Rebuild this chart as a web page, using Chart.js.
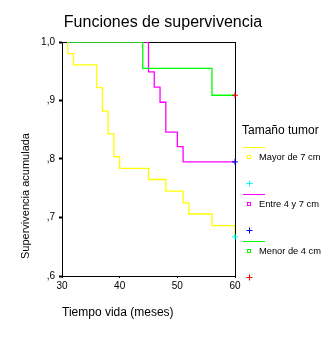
<!DOCTYPE html>
<html>
<head>
<meta charset="utf-8">
<script src="https://cdn.jsdelivr.net/npm/chart.js@4.4.0/dist/chart.umd.js"></script>
<style>
  html, body { margin: 0; padding: 0; background: #fff; }
</style>
</head>
<body>
<canvas id="kmChart" width="331" height="338"></canvas>
<script>
// tiempos (meses) y supervivencia acumulada por grupo
const mayorTimes = [31, 31, 32, 36, 37, 38, 39, 40, 45, 48, 51, 52, 56, 60];
const mayorSurv  = [1.0, .980, .961, .922, .882, .843, .804, .784, .765, .745, .725, .706, .686, .667];
const entreTimes = [31, 45, 46, 47, 48, 50, 51, 60];
const entreSurv  = [1.0, .949, .923, .897, .846, .821, .795, .795];
const menorTimes = [31, 44, 56, 60];
const menorSurv  = [1.0, .955, .909, .909];

const censorTime = 60;
const groupNames = ["Mayor de 7 cm", "Entre 4 y 7 cm", "Menor de 4 cm"];
const xTicks = [30, 40, 50, 60];
const yTicks = [0.6, 0.7, 0.8, 0.9, 1.0];
const yTickLabels = [",6", ",7", ",8", ",9", "1,0"];

const lineColors = ["#ffff00", "#ff00ff", "#00ff00"];
const censorColors = ["#00ffff", "#0000ff", "#ff0000"];
const FONT = "'Liberation Sans', Arial, sans-serif";

const toPoints = (xs, ys) => xs.map((x, i) => ({x: x, y: ys[i]}));
const series = [toPoints(mayorTimes, mayorSurv), toPoints(entreTimes, entreSurv), toPoints(menorTimes, menorSurv)];

const datasets = [];
series.forEach((pts, i) => {
    datasets.push({
        type: "line",
        label: groupNames[i],
        data: pts,
        borderColor: lineColors[i],
        borderWidth: 1.3,
        stepped: true,
        pointRadius: 0,
        fill: false,
        order: 3 - i
    });
    datasets.push({
        type: "scatter",
        label: groupNames[i] + " censurado",
        data: [{x: censorTime, y: pts[pts.length - 1].y}],
        pointStyle: "cross",
        pointRadius: 3,
        borderColor: censorColors[i],
        borderWidth: 1,
        clip: false,
        order: 0
    });
});

const decor = {
    id: "decor",
    beforeDatasetsDraw(chart) {
        const {ctx, chartArea: a} = chart;
        ctx.save();
        ctx.strokeStyle = "#000";
        ctx.lineWidth = 1;
        ctx.strokeRect(a.left + 0.5, a.top + 0.5, a.right - a.left, a.bottom - a.top);
        ctx.restore();
    },
    afterDraw(chart) {
        const ctx = chart.ctx;
        ctx.save();
        ctx.fillStyle = "#000";

        ctx.font = "16px " + FONT;
        ctx.textAlign = "center";
        ctx.textBaseline = "alphabetic";
        ctx.fillText("Funciones de supervivencia", 163, 27);

        ctx.font = "12px " + FONT;
        ctx.textAlign = "left";
        ctx.textBaseline = "middle";
        ctx.fillText("Tiempo vida (meses)", 62, 313);

        ctx.save();
        ctx.font = "11px " + FONT;
        ctx.translate(26, 196);
        ctx.rotate(-Math.PI / 2);
        ctx.textAlign = "center";
        ctx.fillText("Supervivencia acumulada", 0, 0);
        ctx.restore();

        // leyenda
        ctx.fillText("Tamaño tumor", 242, 131);
        ctx.font = "9.3px " + FONT;
        groupNames.forEach((name, i) => {
            const y0 = 147 + 47 * i;
            ctx.strokeStyle = lineColors[i];
            ctx.lineWidth = 1;
            ctx.beginPath();
            ctx.moveTo(243, y0 + 0.5);
            ctx.lineTo(265, y0 + 0.5);
            ctx.stroke();
            ctx.strokeRect(247.5, y0 + 8.5, 3, 3);
            ctx.fillStyle = "#000";
            ctx.fillText(name, 259, y0 + 10);
            ctx.strokeStyle = censorColors[i];
            ctx.beginPath();
            ctx.moveTo(246.5, y0 + 36.5);
            ctx.lineTo(252.5, y0 + 36.5);
            ctx.moveTo(249.5, y0 + 33.5);
            ctx.lineTo(249.5, y0 + 39.5);
            ctx.stroke();
        });
        ctx.restore();
    }
};

new Chart(document.getElementById("kmChart"), {
    data: {datasets: datasets},
    options: {
        responsive: false,
        animation: false,
        layout: {padding: {top: 42, right: 96, left: 0, bottom: 0}},
        plugins: {
            legend: {display: false},
            tooltip: {enabled: false}
        },
        scales: {
            x: {
                type: "linear",
                min: 30,
                max: 60,
                afterBuildTicks: s => { s.ticks = xTicks.map(v => ({value: v})); },
                afterFit: s => { s.height = 62; },
                border: {display: false},
                grid: {drawOnChartArea: false, drawTicks: true, tickLength: 2, color: "#000"},
                ticks: {color: "#000", font: {family: FONT, size: 10}, padding: 2, maxRotation: 0, autoSkip: false}
            },
            y: {
                type: "linear",
                min: 0.6,
                max: 1.0,
                afterBuildTicks: s => { s.ticks = yTicks.map(v => ({value: v})); },
                afterFit: s => { s.width = 62; },
                border: {display: false},
                grid: {drawOnChartArea: false, drawTicks: true, tickLength: 3, tickWidth: 2, color: "#000"},
                ticks: {
                    color: "#000",
                    font: {family: FONT, size: 10},
                    padding: 4,
                    autoSkip: false,
                    callback: (v, i) => yTickLabels[i]
                }
            }
        }
    },
    plugins: [decor]
});
</script>
</body>
</html>
